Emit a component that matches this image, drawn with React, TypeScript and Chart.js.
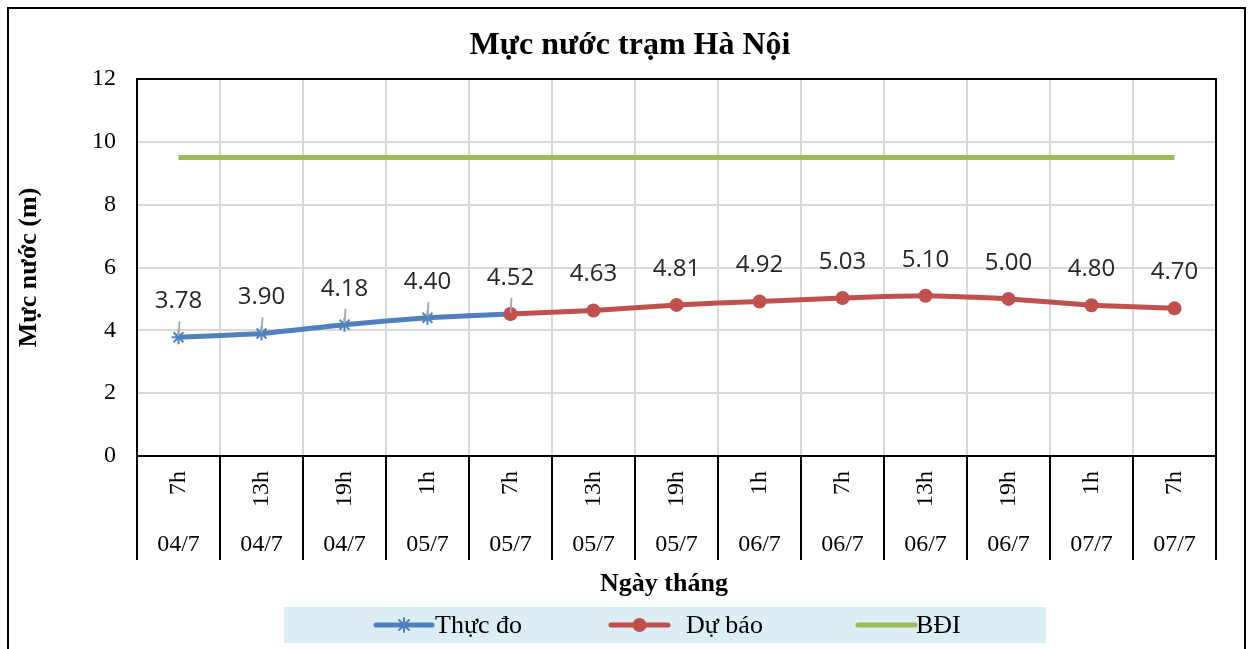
import React, { useEffect, useRef } from 'react';
import { Chart, registerables } from 'chart.js';

Chart.register(...registerables);

const chartTitle = 'Mực nước trạm Hà Nội';
const yAxisTitle = 'Mực nước (m)';
const xAxisTitle = 'Ngày tháng';

const hours = ['7h', '13h', '19h', '1h', '7h', '13h', '19h', '1h', '7h', '13h', '19h', '1h', '7h'];
const dates = ['04/7', '04/7', '04/7', '05/7', '05/7', '05/7', '05/7', '06/7', '06/7', '06/7', '06/7', '07/7', '07/7'];

const measured = [3.78, 3.9, 4.18, 4.4, 4.52, null, null, null, null, null, null, null, null];
const forecast = [null, null, null, null, 4.52, 4.63, 4.81, 4.92, 5.03, 5.1, 5.0, 4.8, 4.7];
const alarmLevel1 = [9.5, 9.5, 9.5, 9.5, 9.5, 9.5, 9.5, 9.5, 9.5, 9.5, 9.5, 9.5, 9.5];

const seriesNames = ['Thực đo', 'Dự báo', 'BĐI'];

const yMin = 0;
const yMax = 12;
const yStep = 2;

const BLUE = '#4F81BD';
const RED = '#C0504D';
const GREEN = '#9BBB59';
const GRID = '#D9D9D9';
const SERIF = '"Liberation Serif", "Times New Roman", serif';
const SANS = '"Open Sans", "Noto Sans", sans-serif';

function drawStar(ctx: CanvasRenderingContext2D, x: number, y: number, r: number, color: string) {
  ctx.save();
  ctx.strokeStyle = color;
  ctx.lineWidth = 2;
  ctx.beginPath();
  for (let k = 0; k < 4; k++) {
    const a = (k * Math.PI) / 4;
    ctx.moveTo(x - Math.cos(a) * r, y - Math.sin(a) * r);
    ctx.lineTo(x + Math.cos(a) * r, y + Math.sin(a) * r);
  }
  ctx.stroke();
  ctx.restore();
}

const decorPlugin = {
  id: 'decor',
  beforeDraw(chart: any) {
    const ctx = chart.ctx as CanvasRenderingContext2D;
    ctx.save();
    ctx.fillStyle = '#ffffff';
    ctx.fillRect(0, 0, chart.width, chart.height);
    ctx.restore();
  },
  afterDraw(chart: any) {
    const ctx = chart.ctx as CanvasRenderingContext2D;
    const area = chart.chartArea;
    const xs = chart.scales.x;
    const n = chart.data.labels.length;
    const half = (xs.getPixelForValue(1) - xs.getPixelForValue(0)) / 2;

    ctx.save();
    // outer frame
    ctx.strokeStyle = '#000';
    ctx.lineWidth = 2;
    ctx.strokeRect(8, 8, 1237, 700);

    // chart title
    ctx.fillStyle = '#000';
    ctx.font = `bold 32px ${SERIF}`;
    ctx.textAlign = 'center';
    ctx.textBaseline = 'middle';
    ctx.fillText(chartTitle, 630, 46);

    // plot border
    ctx.strokeRect(area.left, area.top, area.right - area.left, area.bottom - area.top);

    // category separators below the axis
    const sepBottom = area.bottom + 104;
    ctx.beginPath();
    for (let i = 0; i <= n; i++) {
      const bx = i < n ? xs.getPixelForValue(i) - half : xs.getPixelForValue(n - 1) + half;
      ctx.moveTo(bx, area.bottom);
      ctx.lineTo(bx, sepBottom);
    }
    ctx.stroke();

    // category labels
    ctx.fillStyle = '#000';
    ctx.font = `24px ${SERIF}`;
    const labels = chart.data.labels as string[][];
    for (let i = 0; i < n; i++) {
      const cx = xs.getPixelForValue(i);
      ctx.save();
      ctx.translate(cx, area.bottom + 15);
      ctx.rotate(-Math.PI / 2);
      ctx.textAlign = 'right';
      ctx.textBaseline = 'middle';
      ctx.fillText(labels[i][0], 0, 0);
      ctx.restore();
      ctx.textAlign = 'center';
      ctx.textBaseline = 'middle';
      ctx.fillText(labels[i][1], cx, area.bottom + 89);
    }

    // x axis title
    ctx.font = `bold 26px ${SERIF}`;
    ctx.textAlign = 'center';
    ctx.textBaseline = 'middle';
    ctx.fillText(xAxisTitle, 664, 584);

    // data labels
    ctx.font = `24px ${SANS}`;
    ctx.fillStyle = '#262626';
    const dsMeasured = chart.data.datasets[0].data as (number | null)[];
    [0, 1].forEach((d) => {
      const meta = chart.getDatasetMeta(d);
      const data = chart.data.datasets[d].data as (number | null)[];
      meta.data.forEach((pt: any, i: number) => {
        const v = data[i];
        if (v === null || v === undefined) return;
        if (d === 1 && dsMeasured[i] !== null && dsMeasured[i] !== undefined) return;
        const px = pt.x;
        const py = pt.y;
        ctx.textAlign = 'center';
        ctx.textBaseline = 'middle';
        ctx.fillText(v.toFixed(2), px, py - 36);
        if (d === 0) {
          ctx.save();
          ctx.strokeStyle = '#A6A6A6';
          ctx.lineWidth = 1.8;
          ctx.beginPath();
          ctx.moveTo(px + 1, py - 16);
          ctx.lineTo(px, py - 1);
          ctx.stroke();
          ctx.restore();
        }
      });
    });

    // legend
    const lgTop = 607;
    const lgBottom = 643;
    const lgY = (lgTop + lgBottom) / 2;
    ctx.fillStyle = '#DAEEF3';
    ctx.fillRect(284, lgTop, 1046 - 284, lgBottom - lgTop);
    const items = [
      { x0: 376, x1: 432, tx: 435, color: BLUE, marker: 'star' },
      { x0: 611, x1: 668, tx: 686, color: RED, marker: 'circle' },
      { x0: 858, x1: 915, tx: 916, color: GREEN, marker: 'none' },
    ];
    items.forEach((it, k) => {
      ctx.save();
      ctx.strokeStyle = it.color;
      ctx.lineWidth = 5;
      ctx.lineCap = 'round';
      ctx.beginPath();
      ctx.moveTo(it.x0, lgY);
      ctx.lineTo(it.x1, lgY);
      ctx.stroke();
      const mx = (it.x0 + it.x1) / 2;
      if (it.marker === 'star') drawStar(ctx, mx, lgY, 7, it.color);
      if (it.marker === 'circle') {
        ctx.fillStyle = it.color;
        ctx.beginPath();
        ctx.arc(mx, lgY, 7, 0, Math.PI * 2);
        ctx.fill();
      }
      ctx.restore();
      ctx.fillStyle = '#000';
      ctx.font = `26px ${SERIF}`;
      ctx.textAlign = 'left';
      ctx.textBaseline = 'middle';
      ctx.fillText(seriesNames[k], it.tx, lgY + 1);
    });
    ctx.restore();
  },
};

export default function App() {
  const canvasRef = useRef<HTMLCanvasElement | null>(null);

  useEffect(() => {
    if (!canvasRef.current) return;
    const chart = new Chart(canvasRef.current, {
      type: 'line',
      data: {
        labels: hours.map((h, i) => [h, dates[i]]),
        datasets: [
          {
            label: seriesNames[0],
            data: measured,
            borderColor: BLUE,
            backgroundColor: BLUE,
            borderWidth: 5,
            pointStyle: 'star',
            pointRadius: 7,
            pointBorderWidth: 2,
            pointBorderColor: BLUE,
            tension: 0.15,
            order: 1,
            spanGaps: false,
          },
          {
            label: seriesNames[1],
            data: forecast,
            borderColor: RED,
            backgroundColor: RED,
            borderWidth: 5,
            pointStyle: 'circle',
            pointRadius: 7,
            pointBorderWidth: 0,
            tension: 0.15,
            order: 0,
          },
          {
            label: seriesNames[2],
            data: alarmLevel1,
            borderColor: GREEN,
            backgroundColor: GREEN,
            borderWidth: 5,
            pointRadius: 0,
            order: 2,
          },
        ],
      },
      options: {
        responsive: false,
        animation: false,
        layout: { padding: { left: 0, right: 34, top: 79, bottom: 0 } },
        plugins: {
          legend: { display: false },
          tooltip: { enabled: false },
          title: { display: false },
        },
        scales: {
          x: {
            type: 'category',
            offset: true,
            grid: { color: GRID, lineWidth: 2, offset: true, drawTicks: false },
            border: { display: false },
            ticks: { display: false },
            afterFit: (s: any) => {
              s.height = 193;
            },
          },
          y: {
            min: yMin,
            max: yMax,
            ticks: {
              stepSize: yStep,
              color: '#000',
              padding: 21,
              font: { family: SERIF, size: 24 },
            },
            grid: { color: GRID, lineWidth: 2, drawTicks: false },
            border: { display: false },
            title: {
              display: true,
              text: yAxisTitle,
              color: '#000',
              font: { family: SERIF, size: 26, weight: 'bold' },
              padding: { top: 14, bottom: 0 },
            },
            afterFit: (s: any) => {
              s.width = 137;
            },
          },
        },
      },
      plugins: [decorPlugin],
    } as any);
    return () => chart.destroy();
  }, []);

  return (
    <div style={{ position: 'fixed', left: 0, top: 0, width: 1250, height: 649, background: '#fff' }}>
      <canvas ref={canvasRef} width={1250} height={649} style={{ display: 'block' }} />
    </div>
  );
}
